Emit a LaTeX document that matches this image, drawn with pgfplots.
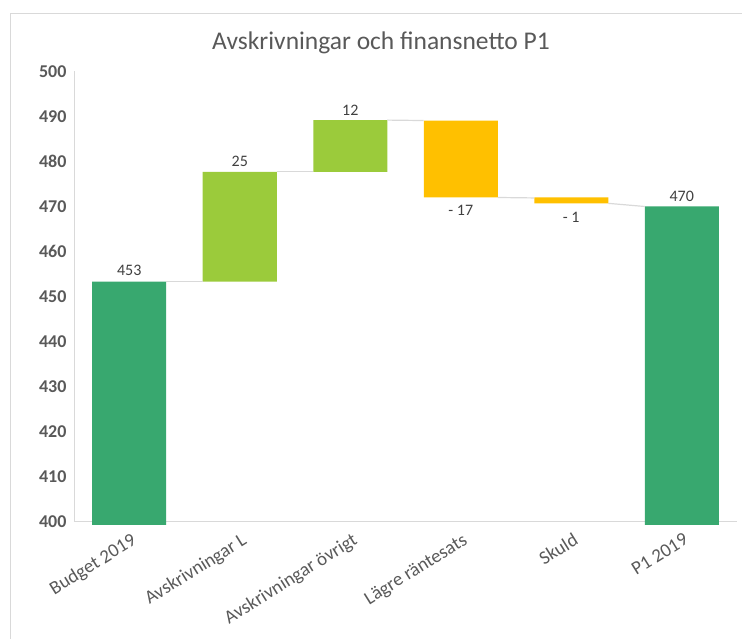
\documentclass[border=0pt]{standalone}
\usepackage{pgfplots}
\pgfplotsset{compat=1.18}
\usepackage{fontspec}
\setmainfont{Carlito}
\definecolor{dkgreen}{HTML}{38A86F}
\definecolor{ltgreen}{HTML}{9BCB3B}
\definecolor{gold}{HTML}{FFC000}
\definecolor{tickgray}{HTML}{595959}
\definecolor{labgray}{HTML}{404040}
\definecolor{linegray}{HTML}{D9D9D9}
\begin{document}
\begin{tikzpicture}[x=1pt,y=1pt]
\useasboundingbox (-74,-114.8) rectangle (668,524.2);
\draw[linegray, line width=0.8pt] (-64,-114.8) -- (-64,510.7) -- (668,510.7);
\node[text=tickgray, font=\fontsize{25.5}{25.5}\selectfont] at (307,481.5) {Avskrivningar och finansnetto P1};
\begin{axis}[at={(0,0)}, anchor=south west, scale only axis,
  width=663pt, height=452.7pt,
  xmin=-0.5, xmax=5.5, ymin=399.4, ymax=500,
  ybar stacked, bar width=74pt,
  axis line style={draw=none}, major tick length=0pt,
  ytick={400,410,...,500},
  xtick={0,1,2,3,4,5},
  xticklabels={Budget 2019,Avskrivningar L,Avskrivningar övrigt,Lägre räntesats,Skuld,P1 2019},
  yticklabel style={font=\bfseries\fontsize{18}{18}\selectfont, text=tickgray, xshift=-4pt},
  xticklabel style={font=\fontsize{19}{19}\selectfont, text=tickgray, rotate=32, anchor=north east, yshift=-4pt},
  extra y ticks={400}, extra y tick labels={},
  extra y tick style={grid=major, major grid style={linegray, line width=1pt}},
  /pgf/number format/assume math mode=true,
]
\addplot[fill=none, draw=none] coordinates {(0,0) (1,453.3) (2,477.7) (3,472.0) (4,470.7) (5,0)};
\addplot[fill=dkgreen, draw=none] coordinates {(0,453.3) (1,0) (2,0) (3,0) (4,0) (5,470.0)};
\addplot[fill=ltgreen, draw=none] coordinates {(0,0) (1,24.4) (2,11.5) (3,0) (4,0) (5,0)};
\addplot[fill=gold, draw=none] coordinates {(0,0) (1,0) (2,0) (3,17.1) (4,1.3) (5,0)};
\end{axis}
\begin{axis}[at={(0,0)}, anchor=south west, scale only axis,
  width=663pt, height=452.7pt,
  xmin=-0.5, xmax=5.5, ymin=399.4, ymax=500,
  hide axis, clip=false]
\draw[linegray, line width=1pt] (axis cs:-0.5,400) -- (axis cs:-0.5,500);
\addplot[linegray, line width=1.2pt, no marks] coordinates {(0.335,453.3) (0.665,453.3)};
\addplot[linegray, line width=1.2pt, no marks] coordinates {(1.335,477.7) (1.665,477.7)};
\addplot[linegray, line width=1.2pt, no marks] coordinates {(2.335,489.2) (2.665,489.1)};
\addplot[linegray, line width=1.2pt, no marks] coordinates {(3.335,472.0) (3.665,471.9)};
\addplot[linegray, line width=1.2pt, no marks] coordinates {(4.335,470.7) (4.665,470.0)};
\begin{scope}[every node/.style={text=labgray, font=\fontsize{16}{16}\selectfont}]
\node at (axis cs:0,455.9) {453};
\node at (axis cs:1,480.1) {25};
\node at (axis cs:2,491.4) {12};
\node at (axis cs:3,469.1) {- 17};
\node at (axis cs:4,467.6) {- 1};
\node at (axis cs:5,472.3) {470};
\end{scope}
\end{axis}
\end{tikzpicture}
\end{document}
